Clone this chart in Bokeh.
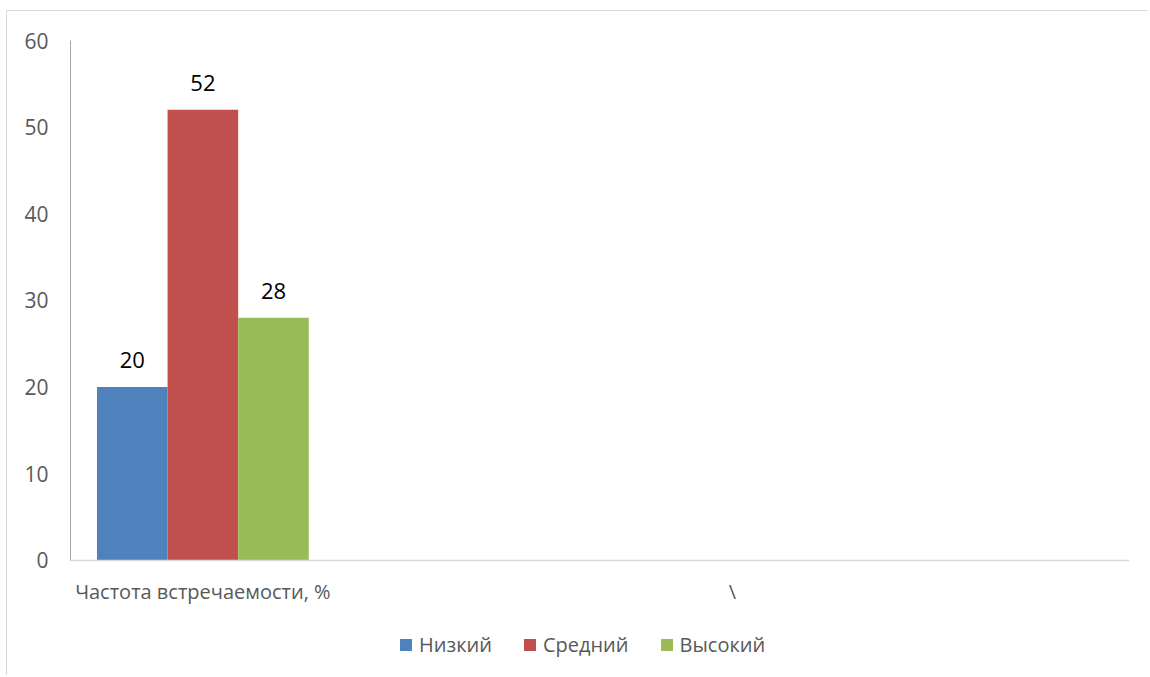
from bokeh.plotting import figure
from bokeh.models import Legend, LegendItem, FixedTicker, ColumnDataSource, Range1d
from bokeh.core.properties import value
from bokeh.embed import file_html
from bokeh.resources import INLINE

# ---- data ----
categories = ["Частота встречаемости, %", "", "\\", ""]
series_names = ["Низкий", "Средний", "Высокий"]
low = [20, None, None, None]
mid = [52, None, None, None]
high = [28, None, None, None]
series_values = [low, mid, high]
y_ticks = [0, 10, 20, 30, 40, 50, 60]

colors = ["#4F81BD", "#C0504D", "#9BBB59"]
FONT = "Open Sans"

# frame reaches the bottom of the canvas; value 0 sits 116px above it
px_per_unit = 519 / 60
y_bottom = -116 / px_per_unit

p = figure(width=1142, height=665, output_backend="svg", toolbar_location=None,
           x_range=Range1d(0, len(categories)), y_range=Range1d(y_bottom, 60),
           min_border_left=63, min_border_top=29, min_border_right=20, min_border_bottom=0)
p.styles = {"border-left": "1px solid #d9d9d9", "border-top": "1px solid #d9d9d9",
            "margin-left": "6px", "margin-top": "10px"}
p.outline_line_color = None
p.xgrid.grid_line_color = None
p.ygrid.grid_line_color = None
p.background_fill_color = "white"
p.border_fill_color = "white"

# y axis
p.yaxis.ticker = FixedTicker(ticks=y_ticks)
p.yaxis.bounds = (0, 60)
p.yaxis.axis_line_color = "#a6a6a6"
p.yaxis.axis_line_width = 1
p.yaxis.major_tick_line_color = None
p.yaxis.minor_tick_line_color = None
p.yaxis.major_label_text_font = FONT
p.yaxis.major_label_text_font_size = "21px"
p.yaxis.major_label_text_color = "#595959"
p.yaxis.major_label_standoff = 16

# x axis (categories at centers), drawn at value 0
centers = [i + 0.5 for i in range(len(categories))]
p.xaxis.fixed_location = 0
p.xaxis.ticker = FixedTicker(ticks=centers)
p.xaxis.major_label_overrides = {c: lab for c, lab in zip(centers, categories)}
p.xaxis.axis_line_color = "#d9d9d9"
p.xaxis.axis_line_width = 1.5
p.xaxis.major_tick_line_color = None
p.xaxis.minor_tick_line_color = None
p.xaxis.major_label_text_font = FONT
p.xaxis.major_label_text_font_size = "20px"
p.xaxis.major_label_text_color = "#595959"
p.xaxis.major_label_standoff = 12

group_frac = 3 / 3.75
bar_w = group_frac / len(series_names)
items = []
for k, (name, vals, col) in enumerate(zip(series_names, series_values, colors)):
    off = (k - (len(series_names) - 1) / 2) * bar_w
    xs, ys = [], []
    for i, v in enumerate(vals):
        if v is not None:
            xs.append(centers[i] + off)
            ys.append(v)
    src = ColumnDataSource(dict(x=xs, top=ys, lab=[str(v) for v in ys]))
    r = p.vbar(x="x", top="top", bottom=0, width=bar_w, source=src,
               fill_color=col, line_color=None)
    p.text(x="x", y="top", text="lab", source=src, text_align="center",
           text_baseline="bottom", y_offset=-19, text_font=value(FONT),
           text_font_size="22px", text_color="black")
    items.append(LegendItem(label=name, renderers=[r]))

legend = Legend(items=items, orientation="horizontal", location=(328, 18),
                label_text_font=FONT, label_text_font_size="20px",
                label_text_color="#595959", glyph_width=15, glyph_height=15,
                spacing=30, label_standoff=6, border_line_color=None,
                background_fill_alpha=0, margin=0, padding=4)
p.add_layout(legend)

open("out.html", "w").write(file_html(p, INLINE))
